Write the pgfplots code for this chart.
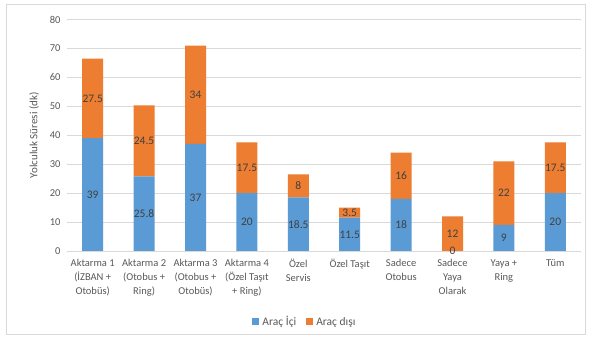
\documentclass[border=0pt]{standalone}
\usepackage{pgfplots}
\pgfplotsset{compat=1.18}
\usepackage{fontspec}
\setmainfont{Carlito}
\definecolor{icblue}{HTML}{5B9BD5}
\definecolor{disorange}{HTML}{ED7D31}
\definecolor{gridgray}{HTML}{D9D9D9}
\definecolor{ticktext}{HTML}{595959}
\definecolor{labeltext}{HTML}{404040}
\begin{document}
\begin{tikzpicture}
% chart area with its thin border
\fill[white] (0pt,0pt) rectangle (589pt,337pt);
\draw[gridgray, line width=0.8pt] (6pt,3pt) rectangle (585pt,333pt);
\path[use as bounding box] (0pt,0pt) rectangle (589pt,337pt);
\begin{axis}[
  at={(67pt,86pt)}, anchor=south west,
  scale only axis, width=514pt, height=231.5pt,
  ybar stacked, bar width=21pt,
  xmin=-0.5, xmax=9.5, ymin=0, ymax=80,
  ytick={0,10,...,80},
  xtick={0,...,9},
  xticklabels={
    {Aktarma 1\\(İZBAN +\\Otobüs)},
    {Aktarma 2\\(Otobus +\\Ring)},
    {Aktarma 3\\(Otobus +\\Otobüs)},
    {Aktarma 4\\(Özel Taşıt\\+ Ring)},
    {Özel\\Servis},
    {Özel Taşıt},
    {Sadece\\Otobus},
    {Sadece\\Yaya\\Olarak},
    {Yaya +\\Ring},
    {Tüm}},
  x tick label style={align=center, font=\fontsize{10.5}{14}\selectfont, text=ticktext, anchor=north, yshift=-5pt},
  y tick label style={font=\fontsize{10.5}{12}\selectfont, text=ticktext, xshift=-3pt},
  /pgf/number format/assume math mode=true,
  ymajorgrids, grid style={gridgray, line width=0.8pt},
  axis x line*=bottom, axis y line*=left,
  x axis line style={draw=gridgray, line width=0.8pt, -},
  y axis line style={draw=none},
  major tick length=0pt,
  ylabel={Yolculuk Süresi (dk)},
  ylabel style={font=\fontsize{11}{12}\selectfont, text=ticktext, yshift=4pt},
  legend style={at={(0.463,-0.265)}, anchor=north, draw=none, fill=none,
    legend columns=2, font=\fontsize{11.5}{12}\selectfont, text=ticktext,
    /tikz/every odd column/.append style={column sep=1pt},
    /tikz/every even column/.append style={column sep=8pt}},
  legend image code/.code={\fill[#1] (0pt,-3.5pt) rectangle (7pt,3.5pt);},
  nodes near coords,
  every node near coord/.append style={anchor=center, text=labeltext,
    font=\fontsize{11.5}{12}\selectfont},
  point meta=rawy,
]
\addplot[fill=icblue, draw=none] coordinates {
  (0,39) (1,25.8) (2,37) (3,20) (4,18.5) (5,11.5) (6,18) (7,0) (8,9) (9,20)};
\addlegendentry{Araç İçi}
\addplot[fill=disorange, draw=none] coordinates {
  (0,27.5) (1,24.5) (2,34) (3,17.5) (4,8) (5,3.5) (6,16) (7,12) (8,22) (9,17.5)};
\addlegendentry{Araç dışı}
% the empty lower segment's label, redrawn above the upper segment
\addplot[forget plot, draw=none, fill=none, stack plots=false,
  point meta=explicit symbolic] coordinates {(7,0) [0]};
\end{axis}
\end{tikzpicture}
\end{document}
